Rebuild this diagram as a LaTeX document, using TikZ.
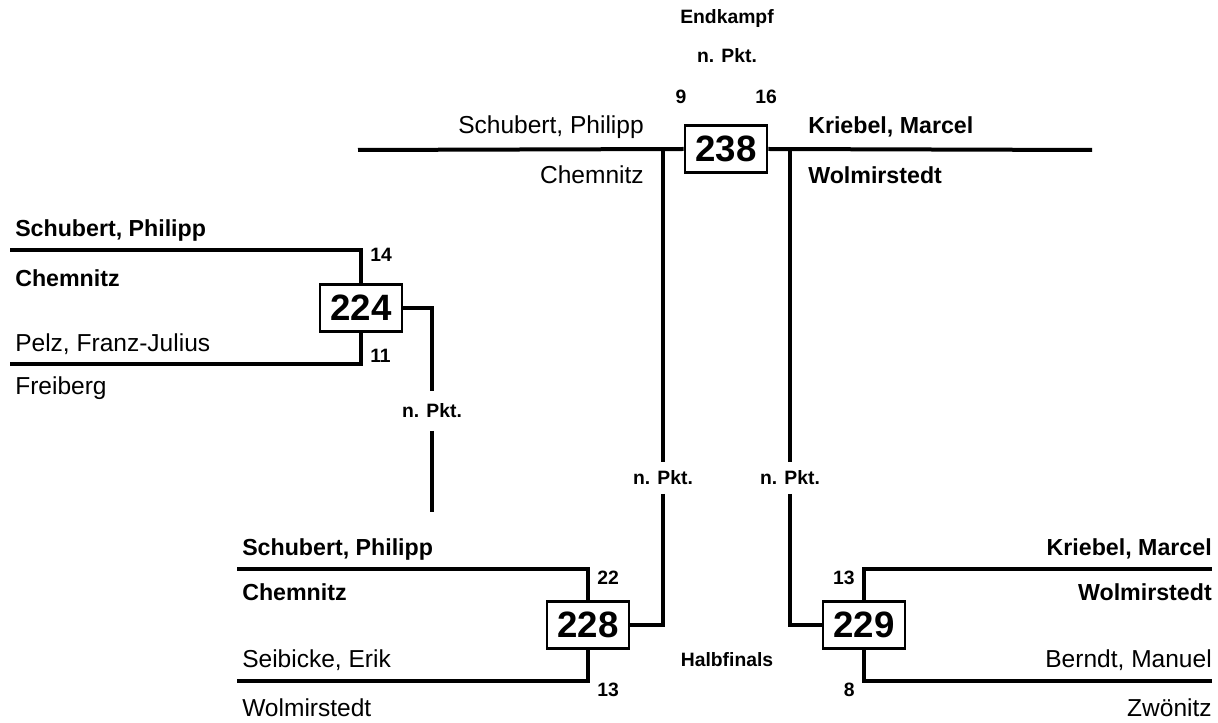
\documentclass[tikz,border=0pt]{standalone}
\usepackage{fontspec}
\setmainfont{Liberation Sans}
\begin{document}
\begin{tikzpicture}[x=0.75pt,y=-0.75pt,
  wire/.style={line width=3pt, line join=miter},
  nm/.style={font=\fontsize{18.4}{22}\selectfont, inner sep=0pt},
  nmb/.style={font=\fontsize{17.4}{21}\selectfont\bfseries, inner sep=0pt},
  lab/.style={font=\fontsize{14.5}{16}\selectfont\bfseries, inner sep=0pt},
  numbox/.style={draw, line width=2pt, fill=white, minimum width=61.5pt, minimum height=35.5pt,
     inner sep=0pt, font=\fontsize{27.5}{30}\selectfont\bfseries}]
\useasboundingbox (0,0) rectangle (1218,723);

% ---------- Final ----------
\node[lab, anchor=base] (endk) at (727,24) {Endkampf};
\node[lab, anchor=base] (npf) at (727,63) {n. Pkt.};
\node[lab, anchor=base] (s9) at (681,104) {9};
\node[lab, anchor=base] (s16) at (766,104) {16};
\coordinate (tl) at (358,150);
\coordinate (tr) at (1092,150);
\coordinate (jl) at (663,150);
\coordinate (jr) at (790,150);
\node[numbox] (b238) at (726,149) {238};
\draw[wire] (tl) -- (b238.west);
\draw[wire] (b238.east) -- (tr);
\node[nm, anchor=base east] (fn1) at (644,134) {Schubert, Philipp};
\node[nm, anchor=base east] (fc1) at (644,184) {Chemnitz};
\node[nmb, anchor=base west] (fn2) at (808,134) {Kriebel, Marcel};
\node[nmb, anchor=base west] (fc2) at (808,184) {Wolmirstedt};

\node[lab] (npl) at (663,478) {n. Pkt.};
\node[lab] (npr) at (790,478) {n. Pkt.};
\draw[wire, shorten >=12pt] (jl) -- (npl.center);
\draw[wire, shorten >=12pt] (jr) -- (npr.center);

% ---------- Match 224 ----------
\node[numbox] (b224) at (361,308) {224};
\coordinate (a224) at (10,250);
\coordinate (c224) at (10,364);
\draw[wire] (a224) -| (b224.north);
\draw[wire] (c224) -| (b224.south);
\node[nmb, anchor=base west] (n224a) at (15,237) {Schubert, Philipp};
\node[nmb, anchor=base west] (v224a) at (15,287) {Chemnitz};
\node[nm, anchor=base west] (n224b) at (15,352) {Pelz, Franz-Julius};
\node[nm, anchor=base west] (v224b) at (15,395) {Freiberg};
\node[lab, anchor=base west] (s14) at (370,262) {14};
\node[lab, anchor=base west] (s11) at (370,363) {11};
\node[lab] (np224) at (432,411) {n. Pkt.};
\coordinate (e224) at (432,512);
\draw[wire, shorten >=15pt] (b224.east) -| (np224.center);
\draw[wire, shorten <=15pt] (np224.center) -- (e224);

% ---------- Match 228 ----------
\node[numbox] (b228) at (588,625) {228};
\coordinate (a228) at (237,569);
\coordinate (c228) at (237,681);
\draw[wire] (a228) -| (b228.north);
\draw[wire] (c228) -| (b228.south);
\node[nmb, anchor=base west] (n228a) at (242,556) {Schubert, Philipp};
\node[nmb, anchor=base west] (v228a) at (242,600) {Chemnitz};
\node[nm, anchor=base west] (n228b) at (242,667) {Seibicke, Erik};
\node[nm, anchor=base west] (v228b) at (242,716) {Wolmirstedt};
\node[lab, anchor=base west] (s22) at (597,584) {22};
\node[lab, anchor=base west] (s13a) at (597,696) {13};
\draw[wire, shorten <=12pt] (npl.center) |- (b228.east);

\node[lab, anchor=base] (halb) at (727,666) {Halbfinals};

% ---------- Match 229 ----------
\node[numbox] (b229) at (864,625) {229};
\coordinate (a229) at (1212,569);
\coordinate (c229) at (1212,681);
\draw[wire] (a229) -| (b229.north);
\draw[wire] (c229) -| (b229.south);
\node[nmb, anchor=base east] (n229a) at (1212,556) {Kriebel, Marcel};
\node[nmb, anchor=base east] (v229a) at (1212,600) {Wolmirstedt};
\node[nm, anchor=base east] (n229b) at (1212,667) {Berndt, Manuel};
\node[nm, anchor=base east] (v229b) at (1212,716) {Zwönitz};
\node[lab, anchor=base east] (s13b) at (855,584) {13};
\node[lab, anchor=base east] (s8) at (855,696) {8};
\draw[wire, shorten <=12pt] (npr.center) |- (b229.west);
\end{tikzpicture}
\end{document}
